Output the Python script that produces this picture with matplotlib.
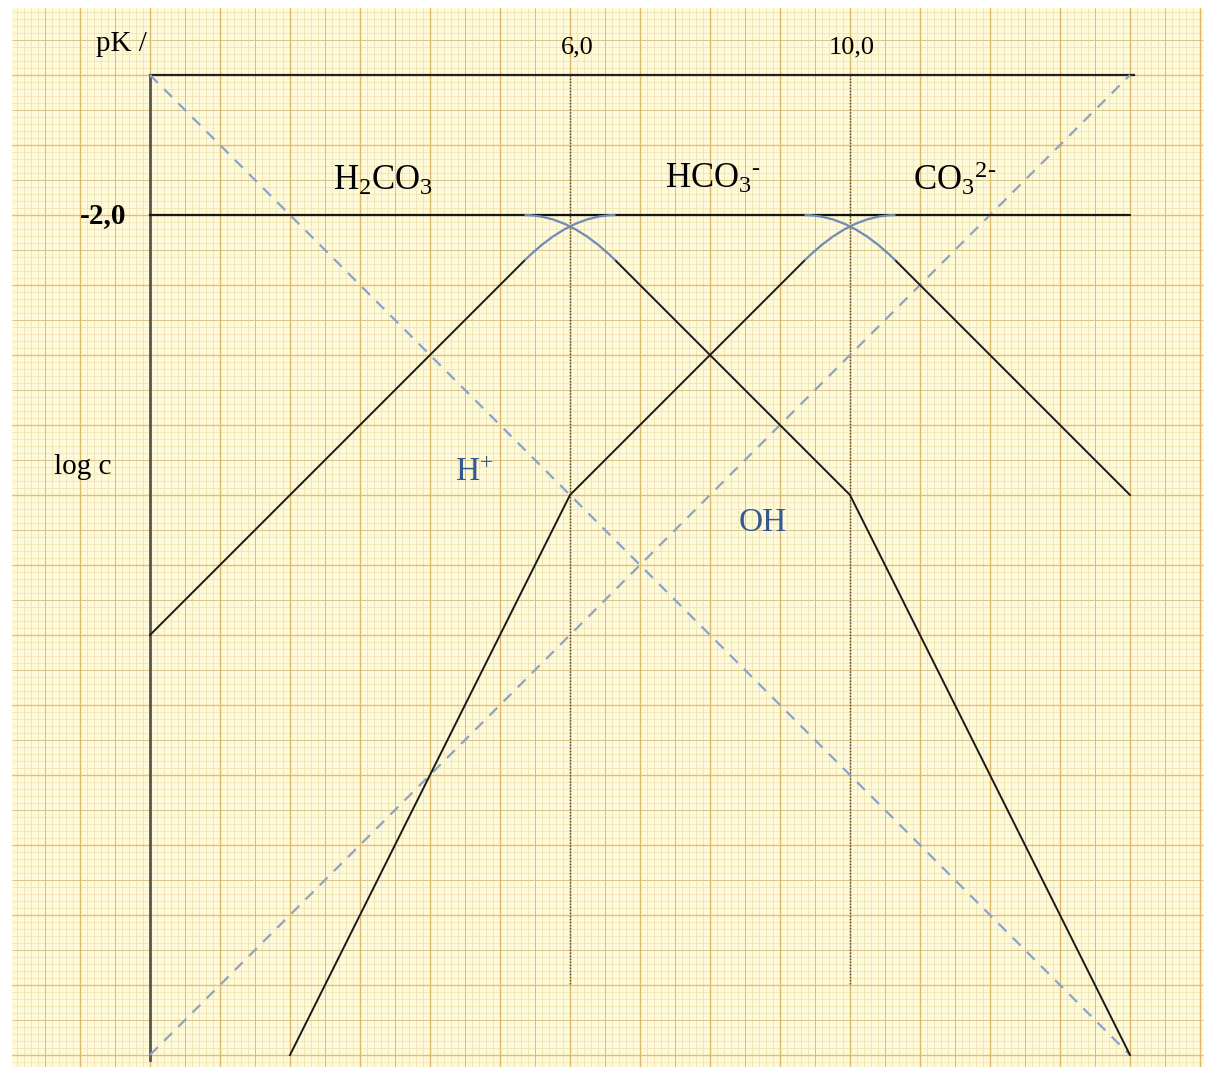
import numpy as np
import matplotlib
matplotlib.use("Agg")
import matplotlib.pyplot as plt
from matplotlib.path import Path
from matplotlib.patches import PathPatch, Rectangle

plt.rcParams["mathtext.fontset"] = "custom"
plt.rcParams["mathtext.rm"] = "Liberation Serif"
plt.rcParams["mathtext.it"] = "Liberation Serif:italic"
plt.rcParams["mathtext.bf"] = "Liberation Serif:bold"

# ---- data (pH, log c) ----
pK_values = [6.0, 10.0]
pK_labels = ["6,0", "10,0"]
c_total_log = -2.0

h2co3_ph = [0, 6, 10, 14]
h2co3_logc = [-2, -2, -6, -14]
hco3_ph = [0, 6, 10, 14]
hco3_logc = [-8, -2, -2, -6]
co3_ph = [2, 6, 10, 14]
co3_logc = [-14, -6, -2, -2]
hplus_ph = [0, 14]
hplus_logc = [0, -14]
oh_ph = [0, 14]
oh_logc = [-14, 0]
round_half_width = 0.65   # half width of the rounded (blue) part near pK

# ---- figure / pixel mapping ----
W, H = 1206, 1067
PX = 70.0
X0, Y0 = 150.0, 75.0
def dx(px): return (px - X0) / PX
def dy(py): return (Y0 - py) / PX

fig = plt.figure(figsize=(W / 100, H / 100), dpi=100)
fig.patch.set_facecolor("white")
ax = fig.add_axes([0, 0, 1, 1])
ax.set_xlim(dx(0), dx(W))
ax.set_ylim(dy(H), dy(0))
ax.axis("off")

# graph paper
px0, px1, py0, py1 = dx(12), dx(1203), dy(1067), dy(8)
ax.add_patch(Rectangle((px0, py0), px1 - px0, py1 - py0, facecolor="#fefad9",
                       edgecolor="none", zorder=0))
def grid(step, vcolor, hcolor, lw, z):
    xs = np.arange(np.ceil(px0 / step) * step, px1, step)
    ys = np.arange(np.ceil(py0 / step) * step, py1, step)
    ax.vlines(xs, py0, py1, colors=vcolor, lw=lw, zorder=z)
    ax.hlines(ys, px0, px1, colors=hcolor, lw=lw, zorder=z)
grid(0.1, "#e8dfac", "#ece2ad", 0.5, 1)
grid(0.5, "#cfc088", "#d8c68c", 0.7, 2)
grid(1.0, "#dcb86a", "#ebbd68", 1.0, 3)

# frame lines
ax.plot([0, 14.05], [0, 0], color="#222222", lw=1.6, zorder=5)
ax.plot([0, 0], [0, dy(1060)], color="#555555", lw=2.0, zorder=5)
ax.plot([0, 13.97], [c_total_log, c_total_log], color="#111111", lw=1.6, zorder=5)
for pk in pK_values:
    ax.plot([pk, pk], [0, -13.0], color="#444444", lw=1.0, ls=(0, (1, 1.2)), zorder=5)

# proton / hydroxide lines
ax.plot(hplus_ph, hplus_logc, color="#8ea3c6", lw=1.6, ls=(0, (5, 4)), zorder=6)
ax.plot(oh_ph, oh_logc, color="#8ea3c6", lw=1.6, ls=(0, (5, 4)), zorder=6)

# species lines, with gaps where the rounded curve replaces the corner
d = round_half_width
def species(ph, lc):
    ph = np.asarray(ph, float); lc = np.asarray(lc, float)
    gaps = [(pk - d, pk + d) for pk in pK_values
            if ph[0] <= pk <= ph[-1] and abs(np.interp(pk, ph, lc) - c_total_log) < 1e-9]
    xs = sorted(set(list(ph) + [g for gp in gaps for g in gp if ph[0] <= g <= ph[-1]]))
    piece = []
    for x in xs:
        inside = any(a < x < b for a, b in gaps)
        if inside:
            continue
        piece.append(x)
        if any(abs(x - a) < 1e-9 for a, b in gaps):
            if len(piece) > 1:
                ax.plot(piece, np.interp(piece, ph, lc), color="#1a1a1a", lw=1.4, zorder=7)
            piece = []
            continue
        if any(abs(x - b) < 1e-9 for a, b in gaps):
            piece = [x]
    if len(piece) > 1:
        ax.plot(piece, np.interp(piece, ph, lc), color="#1a1a1a", lw=1.4, zorder=7)
    # rounded curves
    for a, b in gaps:
        pk = (a + b) / 2
        verts = [(a, np.interp(a, ph, lc)), (pk, c_total_log), (b, np.interp(b, ph, lc))]
        ax.add_patch(PathPatch(Path(verts, [Path.MOVETO, Path.CURVE3, Path.CURVE3]),
                               facecolor="none", edgecolor="#6f8bb5", lw=1.6, zorder=8))

species(h2co3_ph, h2co3_logc)
species(hco3_ph, hco3_logc)
species(co3_ph, co3_logc)

# ---- texts ----
serif = ["Liberation Serif", "DejaVu Serif"]
ax.text(dx(121), dy(44), "pK /", fontsize=21, family=serif, ha="center", va="center", zorder=9)
for pk, lab in zip(pK_values, pK_labels):
    ax.text(pk + 0.1 if pk < 8 else pk + 0.03, dy(47), lab, fontsize=19, family=serif,
            ha="center", va="center", zorder=9)
ax.text(dx(103), dy(216), "-2,0", fontsize=21, family=serif, weight="bold",
        ha="center", va="center", zorder=9)
ax.text(dx(83), dy(467), "log c", fontsize=21, family=serif, ha="center", va="center", zorder=9)
ax.text(dx(383), dy(190), r"$\mathregular{H_2CO_3}$", fontsize=25, family=serif,
        ha="center", va="baseline", zorder=9)
ax.text(dx(713), dy(188), r"$\mathregular{HCO_3{}^{\text{-}}}$", fontsize=25, family=serif,
        ha="center", va="baseline", zorder=9)
ax.text(dx(955), dy(190), r"$\mathregular{CO_3{}^{\text{2-}}}$", fontsize=25, family=serif,
        ha="center", va="baseline", zorder=9)
ax.text(dx(474), dy(481), r"$\mathregular{H^{+}}$", fontsize=24, family=serif, color="#34598f",
        ha="center", va="baseline", zorder=9)
ax.text(dx(763), dy(531), "OH", fontsize=24, family=serif, color="#34598f",
        ha="center", va="baseline", zorder=9)

fig.savefig("out.png", dpi=100)
